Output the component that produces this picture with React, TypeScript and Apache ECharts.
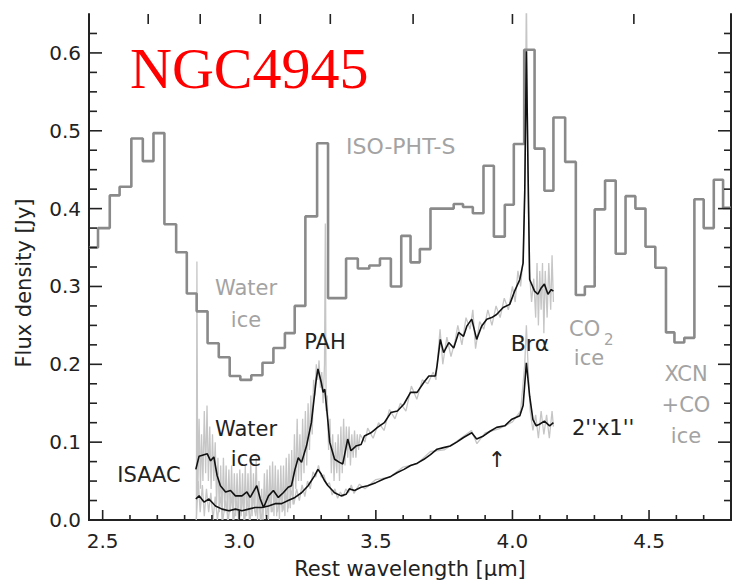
import React, { useEffect, useRef } from "react";
import * as echarts from "echarts";

// ---- axis definitions ----
const xMin = 2.45;
const xMax = 4.8;
const yMin = 0;
const yMax = 0.65;
const xMajorTicks = [2.5, 3.0, 3.5, 4.0, 4.5];
const xMinorTicks = [2.6, 2.7, 2.8, 2.9, 3.1, 3.2, 3.3, 3.4, 3.6, 3.7, 3.8, 3.9, 4.1, 4.2, 4.3, 4.4, 4.6, 4.7];
const topTickWavenumbers = [0.375, 0.35, 0.325, 0.3, 0.275, 0.25, 0.225];
const yMajorTicks = [0, 0.1, 0.2, 0.3, 0.4, 0.5, 0.6];
const yMinorTicks = [0.025, 0.05, 0.075, 0.125, 0.15, 0.175, 0.225, 0.25, 0.275, 0.325, 0.35, 0.375, 0.425, 0.45, 0.475, 0.525, 0.55, 0.575, 0.625];

// ---- ISO-PHT-S histogram: bin edges and flux ----
const isoEdges = [2.45, 2.483, 2.526, 2.562, 2.605, 2.647, 2.686, 2.726, 2.769, 2.808, 2.844, 2.884, 2.925, 2.965, 3.004, 3.044, 3.085, 3.125, 3.167, 3.203, 3.242, 3.285, 3.325, 3.391, 3.434, 3.476, 3.515, 3.555, 3.593, 3.627, 3.661, 3.7, 3.785, 3.819, 3.855, 3.894, 3.932, 3.972, 4.005, 4.043, 4.081, 4.117, 4.15, 4.193, 4.232, 4.265, 4.301, 4.339, 4.378, 4.414, 4.45, 4.487, 4.523, 4.562, 4.593, 4.629, 4.666, 4.7, 4.737, 4.771, 4.8];
const isoFlux = [0.35, 0.375, 0.417, 0.428, 0.49, 0.461, 0.497, 0.38, 0.344, 0.291, 0.268, 0.227, 0.209, 0.185, 0.18, 0.186, 0.202, 0.221, 0.24, 0.275, 0.39, 0.484, 0.285, 0.336, 0.323, 0.327, 0.336, 0.3, 0.365, 0.331, 0.348, 0.4, 0.406, 0.402, 0.394, 0.455, 0.364, 0.405, 0.483, 0.604, 0.477, 0.423, 0.517, 0.46, 0.289, 0.3, 0.399, 0.436, 0.342, 0.416, 0.4, 0.351, 0.324, 0.241, 0.228, 0.234, 0.412, 0.375, 0.437, 0.401];

// ---- ISAAC large-aperture spectrum (smoothed) ----
const isaacWave = [2.841, 2.853, 2.883, 2.895, 2.907, 2.919, 2.931, 2.95, 2.968, 2.986, 3.01, 3.028, 3.04, 3.064, 3.077, 3.089, 3.107, 3.125, 3.143, 3.161, 3.179, 3.191, 3.204, 3.216, 3.228, 3.246, 3.264, 3.282, 3.288, 3.3, 3.307, 3.313, 3.325, 3.331, 3.349, 3.367, 3.379, 3.397, 3.409, 3.427, 3.446, 3.458, 3.482, 3.506, 3.531, 3.555, 3.579, 3.603, 3.627, 3.651, 3.676, 3.694, 3.718, 3.724, 3.736, 3.748, 3.767, 3.785, 3.803, 3.821, 3.833, 3.851, 3.869, 3.887, 3.906, 3.924, 3.942, 3.966, 3.99, 4.008, 4.027, 4.039, 4.045, 4.051, 4.057, 4.063, 4.081, 4.093, 4.105, 4.117, 4.13, 4.142, 4.15];
const isaacFlux = [0.065, 0.082, 0.085, 0.076, 0.081, 0.057, 0.044, 0.036, 0.038, 0.031, 0.031, 0.036, 0.029, 0.044, 0.027, 0.016, 0.031, 0.038, 0.029, 0.035, 0.042, 0.044, 0.065, 0.08, 0.074, 0.095, 0.125, 0.181, 0.194, 0.177, 0.164, 0.168, 0.125, 0.1, 0.078, 0.074, 0.072, 0.104, 0.089, 0.095, 0.097, 0.108, 0.112, 0.119, 0.125, 0.138, 0.14, 0.149, 0.164, 0.164, 0.177, 0.185, 0.185, 0.198, 0.232, 0.215, 0.228, 0.221, 0.241, 0.236, 0.249, 0.258, 0.232, 0.249, 0.258, 0.26, 0.264, 0.273, 0.277, 0.294, 0.309, 0.33, 0.42, 0.602, 0.45, 0.309, 0.294, 0.29, 0.298, 0.303, 0.29, 0.296, 0.294];

// ---- 2"x1" spectrum (smoothed) ----
const slitWave = [2.841, 2.853, 2.871, 2.889, 2.913, 2.937, 2.962, 2.986, 3.01, 3.034, 3.058, 3.082, 3.107, 3.131, 3.155, 3.179, 3.204, 3.228, 3.252, 3.276, 3.288, 3.3, 3.313, 3.325, 3.349, 3.373, 3.391, 3.403, 3.422, 3.446, 3.47, 3.5, 3.531, 3.555, 3.579, 3.603, 3.627, 3.652, 3.676, 3.7, 3.724, 3.748, 3.772, 3.796, 3.821, 3.851, 3.869, 3.894, 3.918, 3.942, 3.972, 3.996, 4.027, 4.039, 4.051, 4.063, 4.075, 4.087, 4.099, 4.117, 4.136, 4.15];
const slitFlux = [0.027, 0.031, 0.023, 0.027, 0.018, 0.014, 0.012, 0.014, 0.012, 0.014, 0.016, 0.016, 0.018, 0.021, 0.021, 0.025, 0.029, 0.035, 0.044, 0.057, 0.065, 0.059, 0.05, 0.044, 0.035, 0.031, 0.033, 0.04, 0.038, 0.042, 0.044, 0.048, 0.053, 0.056, 0.061, 0.065, 0.07, 0.073, 0.078, 0.084, 0.091, 0.093, 0.095, 0.1, 0.106, 0.112, 0.104, 0.108, 0.114, 0.119, 0.121, 0.129, 0.134, 0.147, 0.202, 0.159, 0.129, 0.121, 0.123, 0.127, 0.121, 0.125];

// ---- raw (unsmoothed) spectra, light grey ----
const rawIsaac = [
  [2.843, 0.0], [2.845, 0.332], [2.848, 0.03], [2.853, 0.13], [2.858, 0.04], [2.862, 0.11], [2.867, 0.05], [2.872, 0.14], [2.877, 0.06], [2.882, 0.147], [2.887, 0.05], [2.892, 0.12], [2.897, 0.04], [2.902, 0.11], [2.907, 0.05], [2.912, 0.1], [2.917, 0.02], [2.922, 0.08], [2.927, 0.01], [2.932, 0.07], [2.937, 0.0], [2.942, 0.08], [2.947, 0.01], [2.952, 0.07], [2.957, 0.0], [2.962, 0.065], [2.967, 0.01], [2.972, 0.07], [2.977, 0.0], [2.982, 0.06], [2.987, 0.005], [2.992, 0.06], [2.997, 0.0], [3.002, 0.065], [3.007, 0.005], [3.012, 0.06], [3.017, 0.0], [3.022, 0.07], [3.027, 0.005], [3.032, 0.06], [3.037, 0.0], [3.042, 0.075], [3.047, 0.005], [3.052, 0.06], [3.057, 0.01], [3.062, 0.08], [3.067, 0.0], [3.072, 0.05], [3.077, 0.0], [3.082, 0.04], [3.087, 0.0], [3.092, 0.06], [3.097, 0.005], [3.102, 0.065], [3.107, 0.0], [3.112, 0.07], [3.117, 0.01], [3.122, 0.075], [3.127, 0.005], [3.132, 0.07], [3.137, 0.005], [3.142, 0.065], [3.147, 0.0], [3.152, 0.07], [3.157, 0.01], [3.162, 0.07], [3.167, 0.005], [3.172, 0.08], [3.177, 0.01], [3.182, 0.085], [3.187, 0.015], [3.192, 0.09], [3.197, 0.02], [3.202, 0.11], [3.207, 0.04], [3.212, 0.13], [3.217, 0.05], [3.222, 0.11], [3.227, 0.05], [3.232, 0.13], [3.237, 0.06], [3.242, 0.14], [3.247, 0.07], [3.252, 0.15], [3.257, 0.09], [3.262, 0.16], [3.267, 0.11], [3.272, 0.18], [3.277, 0.16], [3.282, 0.2], [3.287, 0.18], [3.292, 0.205], [3.297, 0.17], [3.302, 0.19], [3.307, 0.15], [3.312, 0.2], [3.315, 0.381], [3.318, 0.14], [3.322, 0.16], [3.327, 0.09], [3.332, 0.13], [3.337, 0.06], [3.342, 0.11], [3.347, 0.05], [3.352, 0.1], [3.357, 0.06], [3.362, 0.11], [3.367, 0.05], [3.372, 0.12], [3.377, 0.06], [3.382, 0.13], [3.387, 0.07], [3.392, 0.12], [3.397, 0.08], [3.402, 0.12], [3.407, 0.07], [3.412, 0.11], [3.417, 0.08], [3.422, 0.115], [3.427, 0.08], [3.432, 0.11], [3.437, 0.09], [3.442, 0.11],
  [3.46, 0.1], [3.47, 0.118], [3.49, 0.105], [3.51, 0.125], [3.53, 0.115], [3.55, 0.142], [3.57, 0.13], [3.59, 0.15], [3.61, 0.14], [3.63, 0.172], [3.65, 0.155], [3.67, 0.18], [3.69, 0.175], [3.71, 0.19], [3.72, 0.18], [3.735, 0.245], [3.745, 0.2], [3.76, 0.235], [3.775, 0.21], [3.79, 0.23], [3.8, 0.25], [3.815, 0.225], [3.83, 0.26], [3.845, 0.245], [3.855, 0.27], [3.865, 0.22], [3.88, 0.255], [3.895, 0.245], [3.91, 0.27], [3.925, 0.25], [3.94, 0.275], [3.955, 0.26], [3.97, 0.285], [3.985, 0.27], [4.0, 0.3], [4.01, 0.28], [4.02, 0.32], [4.03, 0.3], [4.04, 0.34], [4.046, 0.45], [4.051, 0.68], [4.056, 0.47], [4.062, 0.32], [4.07, 0.28], [4.078, 0.31], [4.085, 0.26], [4.09, 0.33], [4.095, 0.25], [4.1, 0.32], [4.105, 0.27], [4.11, 0.33], [4.115, 0.24], [4.12, 0.32], [4.127, 0.26], [4.133, 0.33], [4.14, 0.27], [4.145, 0.34], [4.15, 0.28],
];
const rawSlit = [
  [2.843, 0.0], [2.85, 0.05], [2.857, 0.01], [2.865, 0.045], [2.872, 0.005], [2.88, 0.04], [2.888, 0.01], [2.896, 0.035], [2.904, 0.0], [2.912, 0.03], [2.92, 0.0], [2.93, 0.03], [2.94, 0.0], [2.95, 0.025], [2.96, 0.0], [2.97, 0.03], [2.98, 0.0], [2.99, 0.025], [3.0, 0.0], [3.01, 0.03], [3.02, 0.0], [3.03, 0.025], [3.04, 0.0], [3.05, 0.03], [3.06, 0.005], [3.07, 0.03], [3.08, 0.0], [3.09, 0.03], [3.1, 0.005], [3.11, 0.03], [3.12, 0.01], [3.13, 0.032], [3.14, 0.01], [3.15, 0.033], [3.16, 0.012], [3.17, 0.035], [3.18, 0.015], [3.19, 0.038], [3.2, 0.02], [3.21, 0.04], [3.22, 0.025], [3.23, 0.045], [3.24, 0.03], [3.25, 0.05], [3.26, 0.04], [3.27, 0.062], [3.28, 0.055], [3.29, 0.07], [3.3, 0.055], [3.31, 0.058], [3.32, 0.045], [3.33, 0.048], [3.34, 0.032], [3.35, 0.04], [3.36, 0.028], [3.37, 0.036], [3.38, 0.03], [3.39, 0.04], [3.4, 0.035], [3.41, 0.045], [3.42, 0.034], [3.44, 0.046], [3.46, 0.04], [3.5, 0.052], [3.55, 0.055], [3.6, 0.068], [3.65, 0.072], [3.7, 0.088], [3.75, 0.09], [3.8, 0.102], [3.85, 0.115], [3.87, 0.098], [3.9, 0.112], [3.95, 0.117], [4.0, 0.126], [4.03, 0.14], [4.045, 0.2], [4.051, 0.25], [4.057, 0.2], [4.065, 0.14], [4.075, 0.115], [4.085, 0.135], [4.095, 0.105], [4.105, 0.14], [4.115, 0.11], [4.125, 0.135], [4.135, 0.105], [4.145, 0.14], [4.15, 0.12],
];

const FONT = "DejaVu Sans";
const INK = "#222222";
const GREY_TEXT = "#a3a3a3";

export default function App() {
  const ref = useRef<HTMLDivElement>(null);
  useEffect(() => {
    if (!ref.current) return;
    const chart = echarts.init(ref.current, undefined, { renderer: "svg" });

    const isoData: number[][] = isoFlux.map((v, i) => [isoEdges[i], v]);
    isoData.push([isoEdges[isoEdges.length - 1], isoFlux[isoFlux.length - 1]]);

    const tickData: number[][] = [
      ...xMajorTicks.map((v) => [v, yMin, 10, 0, -1]),
      ...xMinorTicks.map((v) => [v, yMin, 5, 0, -1]),
      ...topTickWavenumbers.map((k) => [1 / k, yMax, 10, 0, 1]),
      ...yMajorTicks.map((v) => [xMin, v, 13, 1, 0]),
      ...yMinorTicks.map((v) => [xMin, v, 8, 1, 0]),
      ...yMajorTicks.map((v) => [xMax, v, 13, -1, 0]),
      ...yMinorTicks.map((v) => [xMax, v, 7, -1, 0]),
    ];

    const axisLine = { show: true, lineStyle: { color: INK, width: 2 } };

    const gtext = (text: string, x: number, y: number, fill: string, fontSize: number, align = "center", extra: any = {}) => ({
      type: "text",
      x,
      y,
      silent: true,
      z: 50,
      style: { text, fill, fontSize, fontFamily: FONT, align, verticalAlign: "middle", ...extra },
    });

    chart.setOption({
      animation: false,
      backgroundColor: "#ffffff",
      textStyle: { fontFamily: FONT },
      grid: { left: 89, top: 14, bottom: 63, right: -2, containLabel: false },
      xAxis: [
        {
          type: "value",
          min: xMin,
          max: xMax,
          interval: 0.05,
          position: "bottom",
          axisLine,
          axisTick: { show: false },
          splitLine: { show: false },
          axisLabel: {
            fontSize: 20,
            color: INK,
            margin: 11,
            fontFamily: FONT,
            formatter: (v: number) => {
              const r = Math.round(v * 100);
              return r % 50 === 0 ? (r / 100).toFixed(1) : "";
            },
          },
          name: "Rest wavelength [μm]",
          nameLocation: "middle",
          nameGap: 38,
          nameTextStyle: { fontSize: 21, color: INK, fontFamily: FONT },
        },
        {
          type: "value",
          min: xMin,
          max: xMax,
          position: "top",
          axisLine,
          axisTick: { show: false },
          axisLabel: { show: false },
          splitLine: { show: false },
        },
      ],
      yAxis: [
        {
          type: "value",
          min: yMin,
          max: yMax,
          interval: 0.1,
          position: "left",
          axisLine,
          axisTick: { show: false },
          splitLine: { show: false },
          axisLabel: {
            fontSize: 20,
            color: INK,
            margin: 8,
            fontFamily: FONT,
            formatter: (v: number) => {
              const r = Math.round(v * 1000);
              return r % 100 === 0 ? (r / 1000).toFixed(1) : "";
            },
          },
        },
        {
          type: "value",
          min: yMin,
          max: yMax,
          position: "right",
          axisLine,
          axisTick: { show: false },
          axisLabel: { show: false },
          splitLine: { show: false },
        },
      ],
      series: [
        {
          type: "line",
          name: "raw ISAAC",
          data: rawIsaac,
          showSymbol: false,
          lineStyle: { color: "#c6c6c6", width: 1.3 },
          z: 1,
          silent: true,
        },
        {
          type: "line",
          name: "raw 2x1",
          data: rawSlit,
          showSymbol: false,
          lineStyle: { color: "#c6c6c6", width: 1.3 },
          z: 1,
          silent: true,
        },
        {
          type: "line",
          name: "ISO-PHT-S",
          data: isoData,
          step: "end",
          showSymbol: false,
          lineStyle: { color: "#8a8a8a", width: 2.6 },
          z: 2,
          silent: true,
        },
        {
          type: "line",
          name: "ISAAC",
          data: isaacWave.map((w, i) => [w, isaacFlux[i]]),
          showSymbol: false,
          lineStyle: { color: "#111111", width: 1.6 },
          z: 3,
          silent: true,
        },
        {
          type: "line",
          name: "2x1",
          data: slitWave.map((w, i) => [w, slitFlux[i]]),
          showSymbol: false,
          lineStyle: { color: "#111111", width: 1.6 },
          z: 3,
          silent: true,
        },
        {
          type: "custom",
          name: "ticks",
          data: tickData,
          encode: { x: 0, y: 1 },
          silent: true,
          z: 10,
          clip: false,
          renderItem: (params: any, api: any) => {
            const p = api.coord([api.value(0), api.value(1)]);
            const len = api.value(2);
            const dx = api.value(3);
            const dy = api.value(4);
            return {
              type: "line",
              shape: { x1: p[0], y1: p[1], x2: p[0] + dx * len, y2: p[1] + dy * len },
              style: { stroke: INK, lineWidth: 1.6 },
            };
          },
        },
      ],
      graphic: [
        {
          type: "text",
          x: 130,
          y: 68,
          silent: true,
          z: 50,
          style: { text: "NGC4945", fill: "#ff0000", fontSize: 58, fontFamily: "Liberation Serif", align: "left", verticalAlign: "middle" },
        },
        {
          type: "text",
          x: 24,
          y: 283,
          rotation: Math.PI / 2,
          silent: true,
          z: 50,
          style: { text: "Flux density [Jy]", fill: INK, fontSize: 21, fontFamily: FONT, align: "center", verticalAlign: "middle" },
        },
        gtext("ISO-PHT-S", 346, 146, GREY_TEXT, 22, "left"),
        gtext("Water", 246, 288, GREY_TEXT, 21),
        gtext("ice", 246, 320, GREY_TEXT, 21),
        gtext("PAH", 325, 342, INK, 21),
        gtext("Water", 246, 429, INK, 21),
        gtext("ice", 246, 459, INK, 21),
        gtext("ISAAC", 149, 475, INK, 21),
        gtext("Brα", 530, 343, INK, 22),
        gtext("CO", 569, 329, GREY_TEXT, 21, "left"),
        gtext("2", 604, 340, GREY_TEXT, 15, "left"),
        gtext("ice", 589, 358, GREY_TEXT, 21),
        gtext("XCN", 686, 374, GREY_TEXT, 21),
        gtext("+CO", 686, 405, GREY_TEXT, 21),
        gtext("ice", 686, 436, GREY_TEXT, 21),
        gtext("2''x1''", 572, 428, INK, 21, "left"),
        gtext("↑", 497, 459, INK, 22),
      ],
    });
    return () => chart.dispose();
  }, []);
  return (
    <div
      ref={ref}
      style={{ position: "absolute", left: 0, top: 0, width: 734, height: 584, background: "#fff" }}
    />
  );
}
